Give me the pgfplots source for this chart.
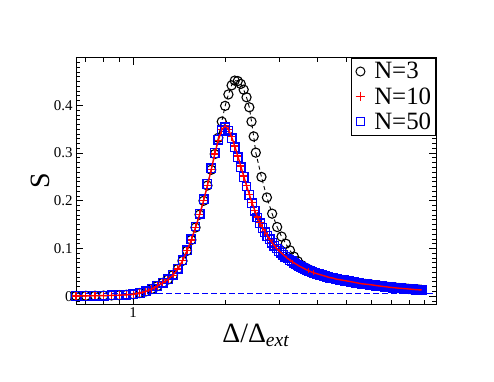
\documentclass[border=0pt]{standalone}
\usepackage{fontspec}
\setmainfont{Liberation Serif}
\usepackage{pgfplots}
\usepackage{pgfplotstable}
\pgfplotsset{compat=1.18}
\definecolor{gblue}{RGB}{0,0,255}
\definecolor{gred}{RGB}{255,0,0}

% N=10 and N=50 share the same Delta grid
\pgfplotstableread{
x n10 n50
0.65 0.0005 0.0005
0.70 0.0007 0.0007
0.75 0.0009 0.0009
0.80 0.0012 0.0012
0.85 0.0016 0.0016
0.90 0.0021 0.0022
0.95 0.0029 0.0030
1.00 0.0040 0.0041
1.05 0.0065 0.0066
1.10 0.0100 0.0102
1.15 0.0150 0.0152
1.20 0.0210 0.0213
1.25 0.0280 0.0284
1.30 0.0350 0.0356
1.35 0.0440 0.0448
1.40 0.0570 0.0579
1.45 0.0740 0.0750
1.50 0.0950 0.0962
1.55 0.118 0.119
1.60 0.144 0.146
1.65 0.171 0.173
1.70 0.200 0.203
1.75 0.232 0.235
1.80 0.265 0.268
1.85 0.298 0.300
1.90 0.327 0.328
1.95 0.349 0.348
2.00 0.357 0.354
2.05 0.350 0.347
2.10 0.334 0.331
2.15 0.315 0.312
2.20 0.294 0.291
2.25 0.273 0.270
2.30 0.252 0.250
2.35 0.232 0.230
2.40 0.213 0.212
2.45 0.196 0.195
2.50 0.180 0.179
2.55 0.166 0.165
2.60 0.154 0.153
2.65 0.144 0.143
2.70 0.135 0.134
2.75 0.127 0.126
2.80 0.119 0.119
2.85 0.112 0.112
2.90 0.106 0.106
2.95 0.100 0.100
3.00 0.095 0.095
3.05 0.091 0.091
3.10 0.087 0.087
3.15 0.083 0.083
3.20 0.079 0.079
3.25 0.076 0.076
3.30 0.073 0.073
3.35 0.0705 0.0705
3.40 0.068 0.068
3.45 0.0655 0.0655
3.50 0.063 0.063
3.55 0.061 0.061
3.60 0.059 0.059
3.65 0.057 0.057
3.70 0.055 0.055
3.75 0.0535 0.0535
3.80 0.052 0.052
3.85 0.0505 0.0505
3.90 0.049 0.049
3.95 0.048 0.048
4.00 0.047 0.047
4.05 0.046 0.046
4.10 0.045 0.045
4.15 0.044 0.044
4.20 0.043 0.043
4.25 0.042 0.042
4.30 0.041 0.041
4.35 0.040 0.040
4.40 0.039 0.039
4.45 0.0385 0.0385
4.50 0.038 0.038
4.55 0.037 0.037
4.60 0.036 0.036
4.65 0.0355 0.0355
4.70 0.035 0.035
4.75 0.0345 0.0345
4.80 0.034 0.034
4.85 0.0335 0.0335
4.90 0.033 0.033
4.95 0.0325 0.0325
5.00 0.032 0.032
5.05 0.0315 0.0315
5.10 0.031 0.031
5.15 0.0305 0.0305
5.20 0.030 0.030
5.25 0.0295 0.0295
5.30 0.029 0.029
5.35 0.0285 0.0285
5.40 0.028 0.028
5.45 0.0275 0.0275
5.50 0.027 0.027
5.55 0.0265 0.0265
5.60 0.026 0.026
5.65 0.0258 0.0258
5.70 0.0255 0.0255
5.75 0.0253 0.0253
5.80 0.0250 0.0250
5.85 0.0248 0.0248
5.90 0.0245 0.0245
5.95 0.0243 0.0243
6.00 0.0240 0.0240
6.05 0.0237 0.0237
6.10 0.0233 0.0233
6.15 0.0230 0.0230
6.20 0.0226 0.0226
6.25 0.0223 0.0223
6.30 0.0220 0.0220
6.35 0.0217 0.0217
6.40 0.0214 0.0214
6.45 0.0211 0.0211
6.50 0.0208 0.0208
6.55 0.0206 0.0206
6.60 0.0203 0.0203
6.65 0.0201 0.0201
6.70 0.0198 0.0198
6.75 0.0196 0.0196
6.80 0.0193 0.0193
6.85 0.0191 0.0191
6.90 0.0188 0.0188
6.95 0.0186 0.0186
7.00 0.0184 0.0184
7.05 0.0182 0.0182
7.10 0.0180 0.0180
7.15 0.0178 0.0178
7.20 0.0176 0.0176
7.25 0.0174 0.0174
7.30 0.0172 0.0172
7.35 0.0170 0.0170
7.40 0.0168 0.0168
7.45 0.0167 0.0167
7.50 0.0165 0.0165
7.55 0.0164 0.0164
7.60 0.0162 0.0162
7.65 0.0161 0.0161
7.70 0.0159 0.0159
7.75 0.0158 0.0158
7.80 0.0156 0.0156
7.85 0.0155 0.0155
7.90 0.0153 0.0153
7.95 0.0152 0.0152
8.00 0.0150 0.0150
8.05 0.0149 0.0149
8.10 0.0147 0.0147
8.15 0.0146 0.0146
8.20 0.0144 0.0144
8.25 0.0143 0.0143
8.30 0.0141 0.0141
8.35 0.0140 0.0140
8.40 0.0138 0.0138
8.45 0.0137 0.0137
8.50 0.0136 0.0136
8.55 0.0135 0.0135
8.60 0.0134 0.0134
8.65 0.0133 0.0133
8.70 0.0132 0.0132
8.75 0.0131 0.0131
8.80 0.0130 0.0130
}\tabNten

\pgfplotstableread{
x n3
0.65 0.0005
0.70 0.0007
0.75 0.0009
0.80 0.0012
0.85 0.0016
0.90 0.0021
0.95 0.0029
1.00 0.0040
1.05 0.0065
1.10 0.0100
1.15 0.0150
1.20 0.0210
1.25 0.0280
1.30 0.0350
1.35 0.0440
1.40 0.0570
1.45 0.0740
1.50 0.0950
1.55 0.118
1.60 0.144
1.65 0.171
1.70 0.200
1.75 0.232
1.80 0.265
1.85 0.298
1.90 0.332
1.95 0.366
2.00 0.399
2.05 0.423
2.10 0.442
2.15 0.452
2.20 0.451
2.25 0.445
2.30 0.433
2.35 0.417
2.40 0.396
2.44 0.366
2.48 0.335
2.52 0.301
2.63 0.250
2.74 0.207
2.85 0.173
2.96 0.145
3.06 0.125
3.16 0.110
3.26 0.096
3.36 0.083
3.46 0.073
3.56 0.065
3.66 0.060
3.76 0.056
3.86 0.052
3.96 0.049
4.06 0.0465
4.16 0.0445
4.26 0.0425
4.36 0.0405
4.46 0.0390
4.56 0.0370
4.66 0.0358
4.76 0.0346
4.86 0.0336
4.96 0.0326
5.06 0.0316
5.16 0.0306
5.26 0.0296
5.36 0.0286
5.46 0.0277
5.56 0.0268
5.66 0.0261
5.76 0.0255
5.86 0.0249
5.96 0.0244
6.06 0.0237
6.16 0.0230
6.26 0.0224
6.36 0.0218
6.46 0.0212
6.56 0.0207
6.66 0.0202
6.76 0.0197
6.86 0.0192
6.96 0.0188
7.06 0.0184
7.16 0.0180
7.26 0.0176
7.36 0.0172
7.46 0.0168
7.56 0.0165
7.66 0.0162
7.76 0.0159
7.86 0.0156
7.96 0.0153
8.06 0.0150
8.16 0.0147
8.26 0.0144
8.36 0.0141
8.46 0.0139
8.56 0.0137
8.66 0.0135
8.76 0.0133
}\tabNthree

\begin{document}
\begin{tikzpicture}
\path[use as bounding box] (0,0) rectangle (494bp,382bp);
\begin{axis}[
  at={(76bp,77.7bp)}, anchor=south west,
  scale only axis, width=360bp, height=246.6bp,
  xmode=log, xmin=0.65, xmax=9.8,
  ymin=-0.017, ymax=0.5,
  clip=false, clip marker paths=true,
  xtick={1}, xticklabels={\textnormal{1}},
  minor xtick={0.7,0.8,0.9,2,3,4,5,6,7,8,9},
  ytick={0,0.1,0.2,0.3,0.4,0.5},
  yticklabels={\textnormal{0},\textnormal{0.1},\textnormal{0.2},\textnormal{0.3},\textnormal{0.4},{}},
  minor ytick={-0.01,0,...,0.5},
  major tick length=7.5bp, minor tick length=4bp,
  axis line style={line width=0.8bp},
  every tick/.style={black, line width=0.8bp},
  tick label style={font=\fontsize{15}{15}\selectfont},
  xlabel={Δ/Δ\textsubscript{\textit{ext}}},
  xlabel style={font=\fontsize{28}{28}\selectfont, at={(axis description cs:0.5,0)}, anchor=base, yshift=-38.4bp, inner sep=0pt},
  ylabel={S},
  ylabel style={font=\fontsize{28}{28}\selectfont, at={(axis description cs:-0.1,0.5)}, anchor=center, inner sep=0pt},
  legend image code/.code={\path (0bp,0bp) (18bp,0bp); \draw[#1] plot coordinates {(6bp,0bp)};},
  legend style={at={(1,1)}, anchor=north east, draw=black, line width=0.6bp,
    font=\fontsize{25}{25}\selectfont, inner sep=3bp, row sep=4bp,
    nodes={inner sep=1.5bp}, cells={anchor=west}},
]
\addlegendimage{only marks, mark=o, black, mark size=4.5bp, mark options={line width=1bp}}
\addlegendentry{N=3}
\addlegendimage{only marks, mark=+, gred, mark size=4.8bp, mark options={line width=1.3bp}}
\addlegendentry{N=10}
\addlegendimage{only marks, mark=square, gblue, mark size=4.2bp, mark options={line width=1.3bp}}
\addlegendentry{N=50}

\addplot[color=gblue, draw=gblue, dash pattern=on 6bp off 3bp, line width=1.3bp, forget plot]
  coordinates {(0.65,0.005) (9.8,0.005)};

\addplot[black, dash pattern=on 4bp off 3bp, line width=0.9bp, mark=o, mark size=4.6bp,
  mark options={solid, line width=1.1bp}, forget plot]
  table[x=x, y=n3] {\tabNthree};

\addplot[gred, only marks, mark=+, mark size=4.6bp,
  mark options={line width=1.2bp}, forget plot]
  table[x=x, y=n10] {\tabNten};

\addplot[gblue, only marks, mark=square, mark size=4.3bp,
  mark options={line width=1.3bp}, forget plot]
  table[x=x, y=n50] {\tabNten};

\addplot[gred, line width=1.4bp, no marks, forget plot]
  table[x=x, y=n10] {\tabNten};
\end{axis}
\end{tikzpicture}
\end{document}
